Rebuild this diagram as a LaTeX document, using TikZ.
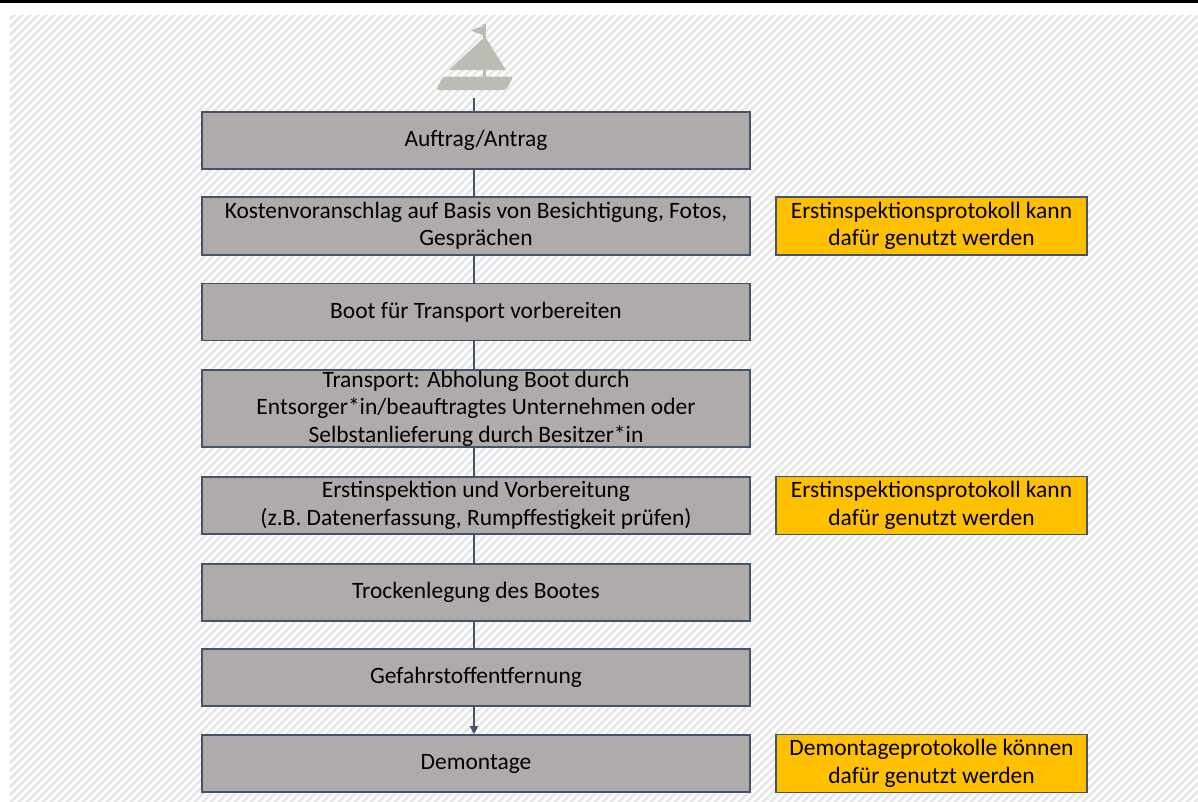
\documentclass[tikz,border=0pt]{standalone}
\usepackage{fontspec}
\setmainfont{Carlito}
\usetikzlibrary{arrows.meta,calc}
\definecolor{boxfill}{HTML}{AFABAB}
\definecolor{boxline}{HTML}{44546A}
\definecolor{notefill}{HTML}{FFC000}
\definecolor{hatchcol}{HTML}{E6E6E6}
\definecolor{boatcol}{HTML}{BCBCB4}
\begin{document}
\begin{tikzpicture}[x=0.75pt,y=-0.75pt,
  stepbox/.style={draw=boxline, line width=1.2pt, fill=boxfill, minimum width=411pt,
    minimum height=42.75pt, align=center, inner sep=0pt,
    font=\fontsize{17.6}{20.6}\selectfont},
  notebox/.style={stepbox, fill=notefill, minimum width=233.25pt, minimum height=43.5pt},
  link/.style={draw=boxline, line width=0.8pt}]
\useasboundingbox (0,0) rectangle (1198,801);
\fill[white] (0,0) rectangle (1198,801);
\begin{scope}
  \clip (10,15) rectangle (1198,801);
  \foreach \i in {0,...,252} {
    \draw[hatchcol, line width=2pt] (\i*8-800,805) -- ++(800,-800);
  }
\end{scope}
\fill[black] (0,0) rectangle (1198,2.5);
% boat
\fill[boatcol] (483,24) rectangle (486,78);
\fill[boatcol] (485,25) -- (471,30.5) -- (485,36) -- cycle;
\fill[boatcol] (449,70) -- (484,37.5) -- (485.5,37.5) -- (506,70) -- cycle;
\fill[boatcol, rounded corners=2pt] (443,76.5) -- (513.5,76.5) -- (506,90) -- (436,90) -- cycle;
% steps
\node[stepbox] (s1) at (476,140.5) {Auftrag/Antrag};
\node[stepbox, minimum height=43.5pt] (s2) at (476,226) {Kostenvoranschlag auf Basis von Besichtigung, Fotos,\\Gesprächen};
\node[stepbox] (s3) at (476,312) {Boot für Transport vorbereiten};
\node[stepbox, minimum height=57.75pt] (s4) at (476,408.5) {Transport: Abholung Boot durch\\Entsorger*in/beauftragtes Unternehmen oder\\Selbstanlieferung durch Besitzer*in};
\node[stepbox] (s5) at (476,505.5) {Erstinspektion und Vorbereitung\\(z.B. Datenerfassung, Rumpffestigkeit prüfen)};
\node[stepbox] (s6) at (476,592.5) {Trockenlegung des Bootes};
\node[stepbox] (s7) at (476,677.5) {Gefahrstoffentfernung};
\node[stepbox] (s8) at (476,763.5) {Demontage};
% notes
\node[notebox] (n1) at (931.5,226) {Erstinspektionsprotokoll kann\\dafür genutzt werden};
\node[notebox] (n2) at (931.5,505.5) {Erstinspektionsprotokoll kann\\dafür genutzt werden};
\node[notebox] (n3) at (931.5,763.5) {Demontageprotokolle können\\dafür genutzt werden};
% connectors
\coordinate (c) at (474,0);
\coordinate (boatfoot) at (474,98);
\draw[link] (boatfoot) -- (s1.north -| c);
\draw[link] (s1.south -| c) -- (s2.north -| c);
\draw[link] (s2.south -| c) -- (s3.north -| c);
\draw[link] (s3.south -| c) -- (s4.north -| c);
\draw[link] (s4.south -| c) -- (s5.north -| c);
\draw[link] (s5.south -| c) -- (s6.north -| c);
\draw[link] (s6.south -| c) -- (s7.north -| c);
\draw[link, -{Triangle[length=6pt,width=6pt]}] (s7.south -| c) -- (s8.north -| c);
\end{tikzpicture}
\end{document}
